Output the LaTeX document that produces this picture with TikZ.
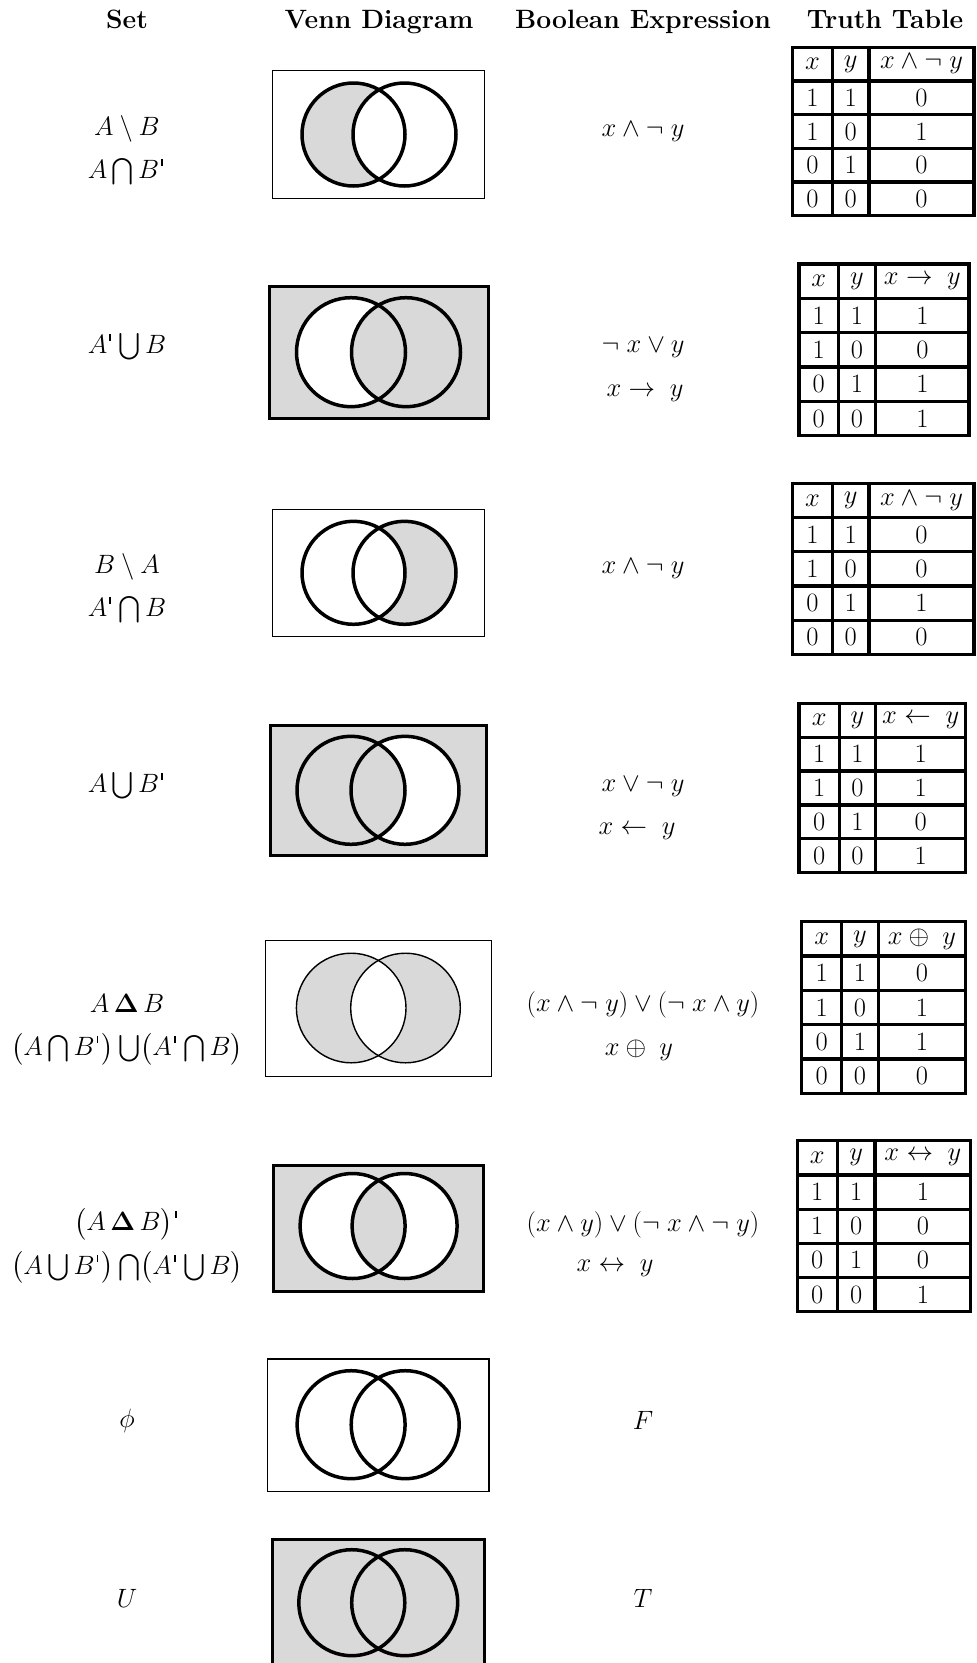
\RequirePackage{fix-cm}
\documentclass[tikz,border=0pt]{standalone}
\usepackage{amsmath,amssymb}
\newcommand{\qtick}{\mbox{\kern0.08em\rule[1.1ex]{0.06em}{0.6ex}\kern0.12em}}
\tikzset{
  every node/.style={font=\fontsize{26.5}{32}\selectfont, inner sep=1pt},
  hdr/.style={font=\fontsize{26.5}{32}\selectfont\bfseries, anchor=base},
  vthin/.style={draw=black, line width=1.3pt},
  vthick/.style={draw=black, line width=3pt},
  circ/.style={draw=black, line width=3.5pt},
  circthin/.style={draw=black, line width=1.4pt},
  shade/.style={fill=gray!30},
  tabline/.style={line width=3.2pt, line cap=rect},
}
\def\ttabparse#1,#2,#3,#4\relax{\def\tL{#1}\def\tA{#2}\def\tB{#3}\def\tR{#4}}
\def\ttabparseY#1,#2\relax{\def\tT{#1}\def\tBo{#2}}
% #1 name, #2 L,C1,C2,R  #3 T,B  #4 header  #5 values
\newcommand{\ttab}[5]{%
  \ttabparse#2\relax
  \ttabparseY#3\relax
  \pgfmathsetmacro\tabh{(\tBo-\tT)/5}
  \draw[tabline] (\tL,\tT) rectangle (\tR,\tBo);
  \foreach \i in {1,...,4}{\draw[tabline] (\tL,{\tT+\i*\tabh}) -- (\tR,{\tT+\i*\tabh});}
  \draw[tabline] (\tA,\tT) -- (\tA,\tBo);
  \draw[tabline] (\tB,\tT) -- (\tB,\tBo);
  \node (#1-hx) at ({(\tL+\tA)/2},{\tT+0.5*\tabh}) {$x$};
  \node (#1-hy) at ({(\tA+\tB)/2},{\tT+0.5*\tabh}) {$y$};
  \node (#1-he) at ({(\tB+\tR)/2},{\tT+0.5*\tabh}) {#4};
  \foreach \xv/\yv/\vv [count=\i] in {#5}{%
    \node (#1-x\i) at ({(\tL+\tA)/2},{\tT+(\i+0.5)*\tabh}) {$\xv$};
    \node (#1-y\i) at ({(\tA+\tB)/2},{\tT+(\i+0.5)*\tabh}) {$\yv$};
    \node (#1-v\i) at ({(\tB+\tR)/2},{\tT+(\i+0.5)*\tabh}) {$\vv$};
  }%
}
\begin{document}
\begin{tikzpicture}[x=1pt,y=-1pt]
\useasboundingbox (0,0) rectangle (977,1663);
\fill[white] (0,0) rectangle (977,1663);
% headers
\node[hdr] (hset) at (127,28.5) {Set};
\node[hdr] (hvenn) at (379,28.5) {Venn Diagram};
\node[hdr] (hbool) at (643,28.5) {Boolean Expression};
\node[hdr] (htt) at (885,28.5) {Truth Table};

% ---------- Row 1: A \ B
\draw[vthin] (272.5,70.7) rectangle (484.5,198.3);
\fill[shade] (353.5,134.5) circle (51.5);
\fill[white] (404.5,134.5) circle (51.5);
\draw[circ] (353.5,134.5) circle (51.5);
\draw[circ] (404.5,134.5) circle (51.5);
\node (s1a) at (127,128.4) {$A\setminus B$};
\node (s1b) at (127,171.9) {$A\bigcap B\qtick$};
\node (b1) at (643,131.5) {$x\wedge\neg\; y$};
\ttab{t1}{792.7,832.3,869,974}{47.3,215.7}{$x\wedge\neg\; y$}{1/1/0,1/0/1,0/1/0,0/0/0}

% ---------- Row 2: A' u B
\draw[vthick, shade] (269.4,286.4) rectangle (488,418);
\fill[white] (351,352.2) circle (54.5);
\fill[shade] (406,352.2) circle (54.5);
\draw[circ] (351,352.2) circle (54.5);
\draw[circ] (406,352.2) circle (54.5);
\node (s2a) at (127,346.9) {$A\qtick\bigcup B$};
\node (b2a) at (643,348) {$\neg\; x\vee y$};
\node (b2b) at (645,393.6) {$x\rightarrow\; y$};
\ttab{t2}{799,838.3,875.7,969}{264,435.7}{$x\rightarrow\; y$}{1/1/1,1/0/0,0/1/1,0/0/1}

% ---------- Row 3: B \ A
\draw[vthin] (272.6,509.2) rectangle (484.8,636.5);
\fill[shade] (404.5,572.8) circle (51.5);
\fill[white] (353.5,572.8) circle (51.5);
\draw[circ] (353.5,572.8) circle (51.5);
\draw[circ] (404.5,572.8) circle (51.5);
\node (s3a) at (127,566.5) {$B\setminus A$};
\node (s3b) at (127,610) {$A\qtick\bigcap B$};
\node (b3) at (643,568.6) {$x\wedge\neg\; y$};
\ttab{t3}{792.7,832.3,869,974}{483.3,654.3}{$x\wedge\neg\; y$}{1/1/0,1/0/0,0/1/1,0/0/0}

% ---------- Row 4: A u B'
\draw[vthick, shade] (270.5,725.6) rectangle (486.9,855);
\fill[white] (405,790.3) circle (54);
\fill[shade] (351,790.3) circle (54);
\draw[circ] (351,790.3) circle (54);
\draw[circ] (405,790.3) circle (54);
\node (s4a) at (127,786) {$A\bigcup B\qtick$};
\node (b4a) at (643,787) {$x\vee\neg\; y$};
\node (b4b) at (637,831.7) {$x\leftarrow\; y$};
\ttab{t4}{799,839.3,875.7,965.7}{703.3,872.7}{$x\leftarrow\; y$}{1/1/1,1/0/1,0/1/0,0/0/1}

% ---------- Row 5: A Delta B
\draw[vthin] (265.2,940.8) rectangle (491.3,1076.7);
\fill[shade] (351.2,1008) circle (54.8);
\fill[shade] (405.5,1008) circle (54.8);
\begin{scope}
  \clip (351.2,1008) circle (54.8);
  \fill[white] (405.5,1008) circle (54.8);
\end{scope}
\draw[circthin] (351.2,1008) circle (54.8);
\draw[circthin] (405.5,1008) circle (54.8);
\node (s5a) at (127,1003.5) {$A\,\mathbf{\Delta}\,B$};
\node (s5b) at (127,1049) {$\bigl(A\bigcap B\qtick\bigr)\bigcup\bigl(A\qtick\bigcap B\bigr)$};
\node (b5a) at (643,1004.6) {$(x\wedge\neg\; y)\vee(\neg\; x\wedge y)$};
\node (b5b) at (639,1050) {$x\oplus\; y$};
\ttab{t5}{801.7,841.7,878.3,965.7}{921.7,1093.3}{$x\oplus\; y$}{1/1/0,1/0/1,0/1/1,0/0/0}

% ---------- Row 6: (A Delta B)'
\draw[vthick, shade] (273.8,1165.5) rectangle (483,1291);
\fill[white] (352.6,1226) circle (52.5);
\fill[white] (404.6,1226) circle (52.5);
\begin{scope}
  \clip (352.6,1226) circle (52.5);
  \fill[shade] (404.6,1226) circle (52.5);
\end{scope}
\draw[circ] (352.6,1226) circle (52.5);
\draw[circ] (404.6,1226) circle (52.5);
\node (s6a) at (127,1224) {$\bigl(A\,\mathbf{\Delta}\,B\bigr)\qtick$};
\node (s6b) at (127,1267.7) {$\bigl(A\bigcup B\qtick\bigr)\bigcap\bigl(A\qtick\bigcup B\bigr)$};
\node (b6a) at (643,1225) {$(x\wedge y)\vee(\neg\; x\wedge\neg\; y)$};
\node (b6b) at (615,1268.7) {$x\leftrightarrow\; y$};
\ttab{t6}{797.3,837.3,875,970.7}{1140.7,1311.7}{$x\leftrightarrow\; y$}{1/1/1,1/0/0,0/1/0,0/0/1}

% ---------- Row 7: empty set
\draw[vthin] (267.3,1358.9) rectangle (489,1491.5);
\draw[circ] (351.1,1424.7) circle (54);
\draw[circ] (405.2,1424.7) circle (54);
\node (s7) at (127,1420.4) {$\phi$};
\node (b7) at (643,1420.4) {$F$};

% ---------- Row 8: universe
\begin{scope}
  \clip (0,0) rectangle (977,1663);
  \draw[vthick, shade] (272.7,1539.3) rectangle (484.2,1668);
  \draw[circ] (351.8,1602.7) circle (53);
  \draw[circ] (404.7,1602.7) circle (53);
\end{scope}
\node (s8) at (127,1598.6) {$U$};
\node (b8) at (643,1598.6) {$T$};
\end{tikzpicture}
\end{document}
